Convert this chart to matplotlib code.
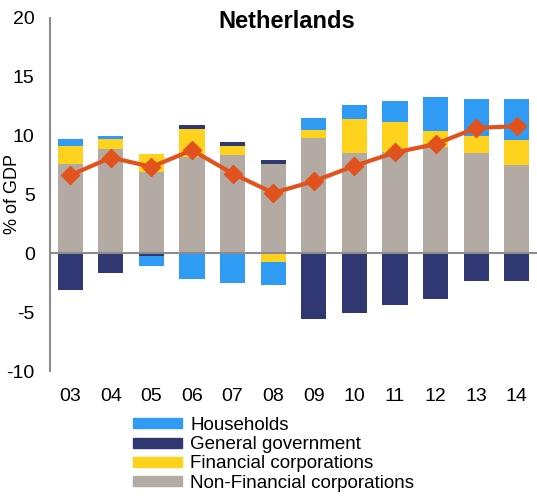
"""Netherlands: net lending by sector, stacked bars with total line."""

import numpy as np
import matplotlib
matplotlib.use("Agg")
import matplotlib.pyplot as plt

years = ["03", "04", "05", "06", "07", "08", "09", "10", "11", "12", "13", "14"]
non_financial = [7.55, 8.85, 6.87, 8.2, 8.34, 7.57, 9.76, 8.54, 8.62, 9.05, 8.54, 7.52]
financial = [1.55, 0.85, 1.53, 2.4, 0.76, -0.74, 0.74, 2.86, 2.55, 1.36, 1.42, 2.1]
government = [-3.1, -1.67, -0.25, 0.27, 0.37, 0.32, -5.56, -5.05, -4.43, -3.91, -2.36, -2.36]
households = [0.65, 0.23, -0.85, -2.19, -2.53, -1.98, 1.0, 1.17, 1.77, 2.87, 3.14, 3.48]
total = [6.64, 8.14, 7.35, 8.77, 6.78, 5.13, 6.13, 7.43, 8.57, 9.28, 10.66, 10.8]

colors = {
    "Households": "#2F9BF4",
    "General government": "#303873",
    "Financial corporations": "#FFD21E",
    "Non-Financial corporations": "#B2AAA3",
}
series = {
    "Households": households,
    "General government": government,
    "Financial corporations": financial,
    "Non-Financial corporations": non_financial,
}

plt.rcParams["font.family"] = ["Liberation Sans", "DejaVu Sans"]
plt.rcParams["axes.unicode_minus"] = False

fig = plt.figure(figsize=(5.37, 4.97), dpi=100)
ax = fig.add_axes([50 / 537, 1 - 371 / 497, 487 / 537, 353 / 497])

x = np.arange(len(years))
width = 0.62
pos_order = ["Non-Financial corporations", "Financial corporations",
             "General government", "Households"]
neg_order = ["Non-Financial corporations", "General government",
             "Financial corporations", "Households"]

pos_bottom = np.zeros(len(years))
for name in pos_order:
    vals = np.array(series[name])
    v = np.where(vals > 0, vals, 0)
    ax.bar(x, v, width, bottom=pos_bottom, color=colors[name], zorder=2)
    pos_bottom += v

neg_bottom = np.zeros(len(years))
for name in neg_order:
    vals = np.array(series[name])
    v = np.where(vals < 0, vals, 0)
    ax.bar(x, v, width, bottom=neg_bottom, color=colors[name], zorder=2)
    neg_bottom += v

ax.plot(x, total, color="#E1521C", linewidth=3, marker="D", markersize=9,
        zorder=4)

ax.axhline(0, color="#8C8C8C", linewidth=1.5, zorder=3)
ax.set_xlim(-0.5, len(years) - 0.5)
ax.set_ylim(-10, 20)
ax.set_yticks([-10, -5, 0, 5, 10, 15, 20])
ax.set_xticks(x)
ax.set_xticklabels(years)
ax.tick_params(axis="both", length=0, labelsize=14)
ax.tick_params(axis="x", pad=12)
ax.tick_params(axis="y", pad=11)
for side in ["top", "right", "bottom"]:
    ax.spines[side].set_visible(False)
ax.spines["left"].set_color("#8C8C8C")
ax.spines["left"].set_linewidth(1.5)
ax.set_ylabel("% of GDP", fontsize=13)
ax.yaxis.set_label_coords(-0.06, 0.5)

fig.text(287 / 537, 1 - 21 / 497, "Netherlands", ha="center", va="center",
         fontsize=17, fontweight="bold")

handles = [plt.Rectangle((0, 0), 1, 1, color=colors[n]) for n in series]
fig.legend(handles, list(series), loc="upper left",
           bbox_to_anchor=(133 / 537, 1 - 417 / 497), frameon=False,
           fontsize=13.5, handlelength=2.6, handleheight=0.45,
           labelspacing=0.12, handletextpad=0.45, borderpad=0,
           borderaxespad=0)

fig.savefig("out.png", dpi=100)
